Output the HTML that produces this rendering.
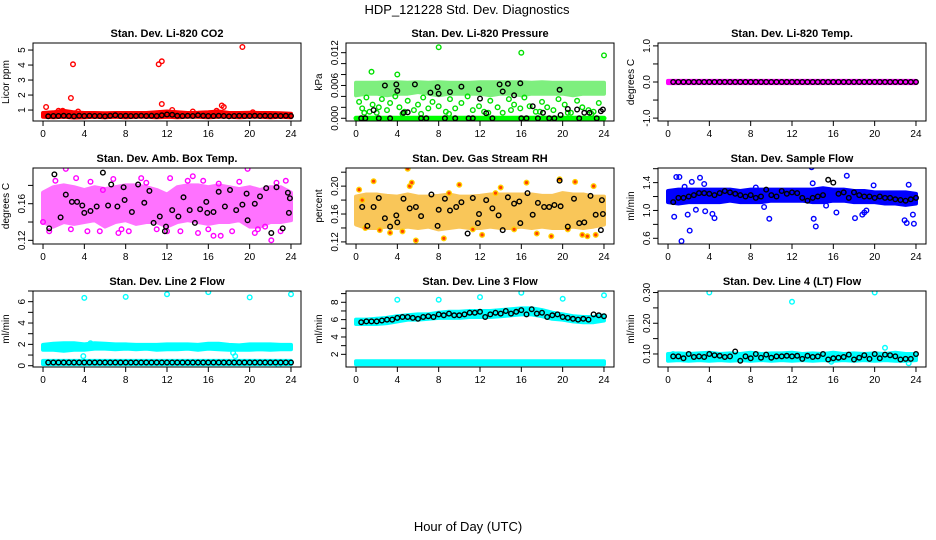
<!DOCTYPE html>
<html><head><meta charset="utf-8">
<style>
html,body{margin:0;padding:0;background:#fff;}
svg{display:block;font-family:"Liberation Sans",sans-serif;}
</style></head>
<body>
<svg id="chart" width="936" height="540" viewBox="0 0 936 540">
<text x="467" y="14" text-anchor="middle" font-size="13">HDP_121228  Std. Dev. Diagnostics</text>
<text x="468" y="531" text-anchor="middle" font-size="13">Hour of Day (UTC)</text>
</svg>
<script>
const hours = [0,1,2,3,4,5,6,7,8,9,10,11,12,13,14,15,16,17,18,19,20,21,22,23,24];
const halfHours = [0.5,1,1.5,2,2.5,3,3.5,4,4.5,5,5.5,6,6.5,7,7.5,8,8.5,9,9.5,10,10.5,11,11.5,12,12.5,13,13.5,14,14.5,15,15.5,16,16.5,17,17.5,18,18.5,19,19.5,20,20.5,21,21.5,22,22.5,23,23.5,24];
const xTicks = [0,4,8,12,16,20,24];

// Panel 1 CO2
const co2Lo = [0.55,0.52,0.55,0.5,0.52,0.55,0.52,0.55,0.52,0.55,0.55,0.52,0.55,0.52,0.55,0.55,0.52,0.55,0.55,0.52,0.55,0.55,0.52,0.55,0.52];
const co2Hi = [0.8,0.85,0.95,0.85,0.8,0.8,0.78,0.8,0.8,0.8,0.8,0.85,0.9,0.85,0.8,0.82,0.85,0.9,0.8,0.8,0.82,0.8,0.8,0.78,0.75];
const co2OutX = [0.3,1.5,1.9,2.7,2.9,3.4,11.2,11.5,11.5,12.5,14.5,16.8,17.3,17.5,19.3,20.3];
const co2OutY = [1.2,0.95,0.95,1.8,4.05,0.9,4.05,4.25,1.4,1.0,0.9,0.95,1.3,1.2,5.2,0.85];
const co2Black = [0.58,0.6,0.6,0.62,0.6,0.58,0.62,0.6,0.62,0.6,0.6,0.58,0.62,0.65,0.6,0.62,0.6,0.6,0.62,0.6,0.62,0.6,0.65,0.7,0.68,0.62,0.6,0.62,0.6,0.65,0.62,0.6,0.6,0.62,0.6,0.58,0.6,0.62,0.6,0.6,0.62,0.6,0.62,0.6,0.62,0.6,0.62,0.6];

// Panel 2 Pressure
const prLo = [0.0042,0.0045,0.0045,0.0042,0.0045,0.0045,0.0048,0.0045,0.0042,0.0045,0.0045,0.0045,0.0045,0.0042,0.0045,0.0045,0.0042,0.0045,0.0045,0.0045,0.0045,0.0042,0.0045,0.0045,0.0045];
const prHi = [0.0065,0.0065,0.0065,0.0066,0.0066,0.0065,0.0066,0.0065,0.0066,0.0065,0.0065,0.0065,0.0066,0.0066,0.0066,0.0066,0.0066,0.0065,0.0066,0.0065,0.0065,0.0065,0.0065,0.0065,0.0065];
const prZero = [0,0,0,0,0,0,0,0,0,0,0,0,0,0,0,0,0,0,0,0,0,0,0,0,0];
const prOutX = [0.3,0.6,1.0,1.3,1.6,2.0,2.5,3.0,3.3,3.8,4.2,4.7,5.0,5.6,6.0,6.5,7.0,7.4,8.0,8.7,9.1,9.6,10.2,10.8,11.3,11.9,12.4,13.0,13.7,14.2,14.8,15.3,15.9,16.3,16.8,17.4,18.0,18.5,19.1,19.6,20.2,20.8,21.4,21.9,22.5,23.0,23.5,0.8,2.2,4.5,6.3,9.0,12.8,15.0,17.8,20.5,22.8,1.5,4.0,8.0,16.0,24.0];
const prOutY = [0.0030,0.0018,0.0038,0.0012,0.0025,0.0010,0.0035,0.0015,0.0028,0.0040,0.0020,0.0012,0.0032,0.0015,0.0025,0.0038,0.0018,0.0030,0.0022,0.0012,0.0035,0.0018,0.0028,0.0040,0.0015,0.0022,0.0012,0.0032,0.0020,0.0010,0.0035,0.0025,0.0018,0.0038,0.0022,0.0012,0.0030,0.0020,0.0015,0.0035,0.0025,0.0010,0.0032,0.0020,0.0015,0.0012,0.0028,0.0010,0.0020,0.0008,0.0008,0.0008,0.0010,0.0015,0.0012,0.0010,0.0008,0.0085,0.0080,0.0130,0.0120,0.0115];
const prBlkX = [0.5,0.9,1.7,2.2,2.8,3.3,3.9,4.0,4.6,5.0,5.7,6.3,6.8,7.2,7.9,8.0,8.6,9.1,9.6,10.2,10.9,11.3,11.9,12.0,12.6,13.2,13.9,14.2,14.7,15.3,15.9,16.0,16.5,17.1,17.6,18.1,18.7,19.2,19.7,19.8,20.5,21.4,21.6,22.1,22.6,23.3,23.7,23.9];
const prBlkY = [0,0,0.0015,0,0.0060,0,0.0062,0.0050,0.0010,0.0011,0.0062,0,0,0.0047,0.0057,0.0045,0,0.0048,0,0.0058,0,0,0.0053,0.0036,0.0009,0,0.0062,0.0049,0.0063,0.0042,0.0064,0,0,0.0022,0,0.0010,0,0,0.0052,0.0006,0.0017,0.0016,0,0.0010,0.0010,0,0.0013,0.0016];

// Panel 3 Temp
const tmLo = [-0.03,-0.03,-0.03,-0.03,-0.03,-0.03,-0.03,-0.03,-0.03,-0.03,-0.03,-0.03,-0.03,-0.03,-0.03,-0.03,-0.03,-0.03,-0.03,-0.03,-0.03,-0.03,-0.03,-0.03,-0.03];
const tmHi = [0.03,0.03,0.03,0.03,0.03,0.03,0.03,0.03,0.03,0.03,0.03,0.03,0.03,0.03,0.03,0.03,0.03,0.03,0.03,0.03,0.03,0.03,0.03,0.03,0.03];
const tmBlack = [0,0,0,0,0,0,0,0,0,0,0,0,0,0,0,0,0,0,0,0,0,0,0,0,0,0,0,0,0,0,0,0,0,0,0,0,0,0,0,0,0,0,0,0,0,0,0,0];

// Panel 4 Amb box temp
const abLo = [0.14,0.135,0.14,0.138,0.14,0.142,0.135,0.14,0.142,0.138,0.14,0.14,0.135,0.14,0.142,0.14,0.138,0.14,0.14,0.142,0.135,0.135,0.14,0.14,0.142];
const abHi = [0.172,0.178,0.18,0.178,0.175,0.178,0.176,0.178,0.18,0.18,0.178,0.175,0.17,0.178,0.18,0.18,0.178,0.18,0.178,0.176,0.178,0.175,0.178,0.178,0.172];
const abOutX = [0.0,0.6,2.2,2.7,3.2,4.3,4.6,5.5,5.8,6.8,7.3,7.6,9.5,10.0,11.0,12.0,12.3,13.3,14.5,15.0,15.5,16.0,16.5,17.2,17.0,18.3,19.0,19.8,20.5,20.8,21.5,22.1,22.6,23.0,23.5,1.2,8.3,14.0];
const abOutY = [0.14,0.13,0.198,0.132,0.188,0.13,0.184,0.13,0.175,0.187,0.128,0.132,0.188,0.183,0.132,0.13,0.188,0.13,0.19,0.128,0.185,0.132,0.125,0.125,0.182,0.13,0.184,0.198,0.128,0.132,0.135,0.12,0.183,0.13,0.185,0.185,0.13,0.185];
const abBlkX = [0.6,1.1,1.7,2.2,2.8,3.3,3.8,4.0,4.6,5.2,5.8,6.3,6.6,7.2,7.8,7.9,8.6,9.2,9.8,10.3,10.7,11.3,11.8,11.9,12.5,13.1,13.6,14.2,14.7,15.2,15.8,15.9,16.5,17.0,17.6,18.1,18.7,19.3,19.7,19.8,20.5,21.0,21.6,22.1,22.6,23.2,23.7,23.9,23.8];
const abBlkY = [0.133,0.192,0.145,0.17,0.162,0.162,0.158,0.15,0.152,0.157,0.194,0.158,0.181,0.157,0.178,0.164,0.151,0.181,0.161,0.174,0.139,0.146,0.13,0.135,0.153,0.146,0.167,0.153,0.139,0.154,0.162,0.15,0.151,0.173,0.157,0.175,0.153,0.159,0.171,0.142,0.16,0.168,0.177,0.128,0.178,0.133,0.172,0.166,0.15];

// Panel 5 RH
const rhLo = [0.145,0.14,0.14,0.142,0.14,0.142,0.14,0.142,0.138,0.14,0.142,0.14,0.14,0.142,0.14,0.14,0.142,0.14,0.142,0.14,0.14,0.142,0.14,0.142,0.145];
const rhHi = [0.185,0.188,0.188,0.186,0.185,0.188,0.185,0.185,0.186,0.188,0.185,0.185,0.186,0.188,0.188,0.188,0.188,0.188,0.186,0.186,0.19,0.188,0.188,0.185,0.185];
const rhOutX = [0.3,0.6,1.7,2.3,3.3,5.0,5.2,5.4,5.8,8.5,10.0,11.3,12.2,14.0,15.3,16.5,17.5,18.9,19.7,21.2,21.9,22.4,23.0,23.2,0.9,4.5,9.0,13.5,20.5];
const rhOutY = [0.195,0.18,0.207,0.137,0.133,0.225,0.20,0.205,0.122,0.125,0.202,0.138,0.13,0.198,0.138,0.205,0.132,0.128,0.21,0.206,0.13,0.128,0.2,0.13,0.14,0.135,0.19,0.19,0.138];
const rhBlkX = [0.6,1.1,1.7,2.2,2.8,3.3,3.9,4.0,4.6,5.2,5.8,6.3,7.3,7.9,8.0,8.6,9.1,9.7,10.2,10.8,11.3,11.8,11.9,12.6,13.2,13.8,14.2,14.7,15.3,15.8,15.9,16.6,17.1,17.6,18.2,18.7,19.2,19.7,19.8,20.5,21.1,21.6,22.1,22.7,23.2,23.8,23.9,23.7];
const rhBlkY = [0.17,0.143,0.17,0.183,0.154,0.142,0.158,0.148,0.182,0.168,0.17,0.157,0.188,0.143,0.166,0.182,0.165,0.17,0.177,0.132,0.183,0.147,0.16,0.18,0.168,0.158,0.137,0.184,0.175,0.178,0.147,0.19,0.159,0.176,0.17,0.17,0.173,0.208,0.171,0.142,0.182,0.147,0.148,0.186,0.159,0.18,0.16,0.137];

// Panel 6 Sample flow
const sfLo = [1.12,1.1,1.12,1.12,1.12,1.12,1.14,1.12,1.12,1.12,1.14,1.14,1.14,1.14,1.12,1.12,1.14,1.14,1.12,1.12,1.12,1.1,1.1,1.08,1.1];
const sfHi = [1.28,1.3,1.3,1.3,1.3,1.3,1.3,1.28,1.3,1.3,1.3,1.3,1.3,1.3,1.3,1.32,1.3,1.3,1.28,1.28,1.26,1.26,1.26,1.26,1.24];
const sfOutX = [0.6,0.8,1.1,1.3,1.9,2.1,2.3,2.7,3.1,3.6,4.3,4.5,9.3,9.8,13.9,14.0,14.3,14.1,15.3,16.3,17.3,18.1,18.8,19.0,19.2,19.9,22.9,23.1,23.3,23.7,23.8,1.6,3.5,8.5];
const sfOutY = [0.91,1.48,1.48,0.56,0.94,0.71,1.41,1.01,1.47,0.99,0.95,0.89,1.05,0.88,1.62,1.39,0.77,0.88,1.07,0.97,1.5,0.89,0.94,0.97,1.0,1.36,0.86,0.82,1.37,0.94,0.81,1.34,1.38,1.33];
const sfBlack = [1.12,1.18,1.18,1.2,1.22,1.25,1.25,1.24,1.22,1.25,1.28,1.26,1.24,1.22,1.2,1.22,1.18,1.2,1.3,1.22,1.2,1.28,1.24,1.26,1.25,1.18,1.14,1.18,1.2,1.22,1.44,1.4,1.24,1.26,1.18,1.26,1.22,1.2,1.2,1.18,1.2,1.18,1.18,1.16,1.15,1.14,1.16,1.18];

// Panel 7 Line 2 flow
const l2Lo = [1.5,1.5,1.4,1.5,1.5,1.6,1.6,1.55,1.6,1.55,1.6,1.5,1.55,1.55,1.6,1.5,1.6,1.55,1.5,1.5,1.5,1.55,1.5,1.55,1.55];
const l2Hi = [1.95,2.05,2.1,2.1,2.0,2.1,2.05,2.0,2.0,1.95,1.95,1.95,2.0,2.0,2.0,1.95,2.05,2.05,1.95,1.9,2.0,2.0,2.0,1.95,1.95];
const l2BaseLo = [0.15,0.15,0.15,0.15,0.15,0.15,0.15,0.15,0.15,0.15,0.15,0.15,0.15,0.15,0.15,0.15,0.15,0.15,0.15,0.15,0.15,0.15,0.15,0.15,0.15];
const l2BaseHi = [0.45,0.45,0.45,0.45,0.45,0.45,0.45,0.45,0.45,0.45,0.45,0.45,0.45,0.45,0.45,0.45,0.45,0.45,0.45,0.45,0.45,0.45,0.45,0.45,0.45];
const l2OutX = [4.0,8.0,12.0,16.0,20.0,24.0,3.9,4.6,18.4,18.6,22.8];
const l2OutY = [6.35,6.45,6.7,6.9,6.4,6.7,0.9,2.1,1.2,0.9,0.0];
const l2Black = [0.3,0.3,0.3,0.3,0.3,0.3,0.3,0.3,0.3,0.3,0.3,0.3,0.3,0.3,0.3,0.3,0.3,0.3,0.3,0.3,0.3,0.3,0.3,0.3,0.3,0.3,0.3,0.3,0.3,0.3,0.3,0.3,0.3,0.3,0.3,0.3,0.3,0.3,0.3,0.3,0.3,0.3,0.3,0.3,0.3,0.3,0.3,0.3];

// Panel 8 Line 3 flow
const l3Lo = [5.5,5.5,5.5,5.6,5.8,6.0,6.0,6.1,6.2,6.2,6.2,6.3,6.3,6.3,6.4,6.5,6.6,6.6,6.4,6.1,6.0,5.8,5.7,5.7,5.9];
const l3Hi = [6.0,6.0,6.1,6.2,6.4,6.5,6.6,6.6,6.8,6.9,6.9,7.0,7.0,7.0,7.1,7.2,7.3,7.3,7.1,6.8,6.6,6.4,6.3,6.3,6.5];
const l3BaseLo = [0.85,0.85,0.85,0.85,0.85,0.85,0.85,0.85,0.85,0.85,0.85,0.85,0.85,0.85,0.85,0.85,0.85,0.85,0.85,0.85,0.85,0.85,0.85,0.85,0.85];
const l3BaseHi = [1.2,1.2,1.2,1.2,1.2,1.2,1.2,1.2,1.2,1.2,1.2,1.2,1.2,1.2,1.2,1.2,1.2,1.2,1.2,1.2,1.2,1.2,1.2,1.2,1.2];
const l3OutX = [4.0,8.0,12.0,16.0,20.0,24.0];
const l3OutY = [8.3,8.3,8.6,9.1,8.4,8.8];
const l3Black = [5.7,5.8,5.8,5.8,5.9,6.0,6.0,6.2,6.3,6.3,6.2,6.1,6.3,6.4,6.3,6.6,6.5,6.7,6.5,6.5,6.6,6.8,6.8,6.9,6.3,6.6,6.8,6.7,7.0,6.7,6.9,7.1,6.6,7.2,6.7,6.8,6.3,6.5,6.6,6.3,6.2,6.1,6.0,6.1,6.0,6.6,6.5,6.4];

// Panel 9 Line 4 flow
const l4Lo = [0.078,0.08,0.078,0.08,0.078,0.08,0.078,0.08,0.078,0.08,0.078,0.08,0.078,0.08,0.078,0.08,0.078,0.08,0.078,0.08,0.078,0.08,0.078,0.078,0.08];
const l4Hi = [0.1,0.102,0.1,0.102,0.104,0.1,0.102,0.1,0.104,0.1,0.102,0.102,0.104,0.1,0.102,0.1,0.104,0.1,0.102,0.1,0.102,0.1,0.104,0.1,0.1];
const l4OutX = [4.0,12.0,20.0,21.0,0.5,15.8,23.3];
const l4OutY = [0.30,0.27,0.30,0.12,0.1,0.075,0.07];
const l4Black = [0.092,0.092,0.086,0.1,0.09,0.092,0.09,0.1,0.096,0.094,0.09,0.092,0.108,0.078,0.092,0.086,0.1,0.088,0.098,0.088,0.092,0.092,0.094,0.092,0.094,0.084,0.094,0.09,0.092,0.1,0.082,0.086,0.088,0.09,0.098,0.082,0.088,0.096,0.084,0.1,0.086,0.098,0.096,0.092,0.082,0.084,0.084,0.1];

const NS = 'http://www.w3.org/2000/svg';
const svg = document.getElementById('chart');
function mk(tag, attrs, parent){ const e=document.createElementNS(NS,tag); for(const k in attrs) e.setAttribute(k,attrs[k]); (parent||svg).appendChild(e); return e; }

const colL = [33,346,658], rowT = [43,168,291], rowH = [78,76,76], W = 268;
const XMIN = -0.97, XMAX = 24.97;

function panel(idx, title, ylab, ymin, ymax, yTicks, yLabels, layers){
  const c = idx%3, r = Math.floor(idx/3);
  const L = colL[c], T = rowT[r], H = rowH[r], B = T+H;
  const g = mk('g',{});
  
  
  const sx = v => L + (v-XMIN)/(XMAX-XMIN)*W;
  const sy = v => B - (v-ymin)/(ymax-ymin)*H;
  const plot = mk('g',{}, g);
  
  
  const cid = 'clip'+idx;
  const cp = mk('clipPath',{id:cid}, g); mk('rect',{x:L,y:T,width:W,height:H}, cp);
  plot.setAttribute('clip-path','url(#'+cid+')');
  layers.forEach(ly => {
    if (ly.type==='band'){
      let d='';
      ly.x.forEach((x,i)=>{ d += (i?'L':'M')+sx(x).toFixed(1)+','+sy(ly.hi[i]).toFixed(1); });
      for(let i=ly.x.length-1;i>=0;i--) d += 'L'+sx(ly.x[i]).toFixed(1)+','+sy(ly.lo[i]).toFixed(1);
      d+='Z';
      const p = mk('path',{d:d, fill:ly.fill, stroke:ly.stroke||ly.fill, 'stroke-width':ly.sw||4, 'stroke-linejoin':'round', opacity:ly.op||1}, plot);
      
      
    } else {
      ly.x.forEach((x,i)=>{
        const e = mk('circle',{cx:sx(x).toFixed(1), cy:sy(ly.y[i]).toFixed(1), r:2.3, fill:ly.fill||'none', stroke:ly.color, 'stroke-width':1.4}, plot);
        
        
      });
    }
  });
  const box = mk('rect',{x:L,y:T,width:W,height:H,fill:'none',stroke:'#000','stroke-width':1}, g);
  
  
  const xa = mk('g',{}, g);
  
  
  mk('line',{x1:sx(xTicks[0]),x2:sx(xTicks[xTicks.length-1]),y1:B,y2:B,stroke:'#000'}, xa);
  xTicks.forEach(t=>{
    mk('line',{x1:sx(t),x2:sx(t),y1:B,y2:B+5,stroke:'#000'}, xa);
    const tx = mk('text',{x:sx(t),y:B+16,'text-anchor':'middle','font-size':10}, xa);
    tx.textContent = t;
    
    
  });
  const ya = mk('g',{}, g);
  
  
  mk('line',{x1:L,x2:L,y1:sy(yTicks[0]),y2:sy(yTicks[yTicks.length-1]),stroke:'#000'}, ya);
  yTicks.forEach((t,i)=>{
    mk('line',{x1:L-5,x2:L,y1:sy(t),y2:sy(t),stroke:'#000'}, ya);
    if (yLabels[i]){
      const tx = mk('text',{x:0,y:0,'text-anchor':'middle','font-size':10,transform:'translate('+(L-8)+','+sy(t)+') rotate(-90)'}, ya);
      tx.textContent = yLabels[i];
      
      
    }
  });
  const yl = mk('text',{x:0,y:0,'text-anchor':'middle','font-size':10,transform:'translate('+(L-24)+','+(T+H/2)+') rotate(-90)'}, g);
  yl.textContent = ylab;
  
  
  const tt = mk('text',{x:L+W/2,y:T-6,'text-anchor':'middle','font-size':11,'font-weight':'bold'}, g);
  tt.textContent = title;
  
  
}

panel(0,'Stan. Dev. Li-820 CO2','Licor ppm',0.27,5.47,[1,2,3,4,5],['1','2','3','4','5'],[
  {type:'band',x:hours,lo:co2Lo,hi:co2Hi,fill:'#ff0000',name:'co2-band'},
  {type:'pts',x:co2OutX,y:co2OutY,color:'#ff0000',name:'co2-outlier-point'},
  {type:'pts',x:halfHours,y:co2Black,color:'#000',name:'co2-hourly-point'}]);
panel(1,'Stan. Dev. Li-820 Pressure','kPa',-0.0005,0.01377,[0,0.002,0.004,0.006,0.008,0.010,0.012],['0.000','','','0.006','','','0.012'],[
  {type:'band',x:hours,lo:prLo,hi:prHi,fill:'#00e000',name:'pressure-band',op:0.5},
  {type:'band',x:hours,lo:prZero,hi:prZero,fill:'#00ff00',sw:5,name:'pressure-zero-band'},
  {type:'pts',x:prOutX,y:prOutY,color:'#00e000',name:'pressure-point'},
  {type:'pts',x:prBlkX,y:prBlkY,color:'#000',name:'pressure-hourly-point'}]);
panel(2,'Stan. Dev. Li-820 Temp.','degrees C',-1.08,1.08,[-1,-0.5,0,0.5,1],['-1.0','','0.0','','1.0'],[
  {type:'band',x:hours,lo:tmLo,hi:tmHi,fill:'#ff00ff',name:'temp-band'},
  {type:'pts',x:halfHours,y:tmBlack,color:'#000',name:'temp-hourly-point'}]);
panel(3,'Stan. Dev. Amb. Box Temp.','degrees C',0.116,0.199,[0.12,0.14,0.16,0.18],['0.12','','0.16',''],[
  {type:'band',x:hours,lo:abLo,hi:abHi,fill:'#ff00ff',name:'ambbox-band',op:0.55},
  {type:'pts',x:abOutX,y:abOutY,color:'#ff00ff',name:'ambbox-point'},
  {type:'pts',x:abBlkX,y:abBlkY,color:'#000',name:'ambbox-hourly-point'}]);
panel(4,'Stan. Dev. Gas Stream RH','percent',0.117,0.226,[0.12,0.14,0.16,0.18,0.20,0.22],['0.12','','0.16','','0.20',''],[
  {type:'band',x:hours,lo:rhLo,hi:rhHi,fill:'#f8b830',name:'rh-band',op:0.8},
  {type:'pts',x:rhOutX,y:rhOutY,color:'#ffd000',fill:'#ff4000',name:'rh-point'},
  {type:'pts',x:rhBlkX,y:rhBlkY,color:'#000',name:'rh-hourly-point'}]);
panel(5,'Stan. Dev. Sample Flow','ml/min',0.518,1.61,[0.6,0.8,1.0,1.2,1.4,1.6],['0.6','','1.0','','1.4',''],[
  {type:'band',x:hours,lo:sfLo,hi:sfHi,fill:'#0000ff',name:'sampleflow-band'},
  {type:'pts',x:sfOutX,y:sfOutY,color:'#0000ff',name:'sampleflow-point'},
  {type:'pts',x:halfHours,y:sfBlack,color:'#000',name:'sampleflow-hourly-point'}]);
panel(6,'Stan. Dev. Line 2 Flow','ml/min',-0.12,7.0,[0,1,2,3,4,5,6,7],['0','','2','','4','','6',''],[
  {type:'band',x:hours,lo:l2Lo,hi:l2Hi,fill:'#00ffff',name:'line2-band'},
  {type:'band',x:hours,lo:l2BaseLo,hi:l2BaseHi,fill:'#00ffff',name:'line2-base-band'},
  {type:'pts',x:l2OutX,y:l2OutY,color:'#00ffff',name:'line2-point'},
  {type:'pts',x:halfHours,y:l2Black,color:'#000',name:'line2-hourly-point'}]);
panel(7,'Stan. Dev. Line 3 Flow','ml/min',0.54,9.3,[2,3,4,5,6,7,8,9],['2','','4','','6','','8',''],[
  {type:'band',x:hours,lo:l3Lo,hi:l3Hi,fill:'#00ffff',name:'line3-band'},
  {type:'band',x:hours,lo:l3BaseLo,hi:l3BaseHi,fill:'#00ffff',name:'line3-base-band'},
  {type:'pts',x:l3OutX,y:l3OutY,color:'#00ffff',name:'line3-point'},
  {type:'pts',x:halfHours,y:l3Black,color:'#000',name:'line3-hourly-point'}]);
panel(8,'Stan. Dev. Line 4 (LT) Flow','ml/min',0.0576,0.305,[0.10,0.15,0.20,0.25,0.30],['0.10','','0.20','','0.30'],[
  {type:'band',x:hours,lo:l4Lo,hi:l4Hi,fill:'#00ffff',name:'line4-band'},
  {type:'pts',x:l4OutX,y:l4OutY,color:'#00ffff',name:'line4-point'},
  {type:'pts',x:halfHours,y:l4Black,color:'#000',name:'line4-hourly-point'}]);
</script>
</body></html>
